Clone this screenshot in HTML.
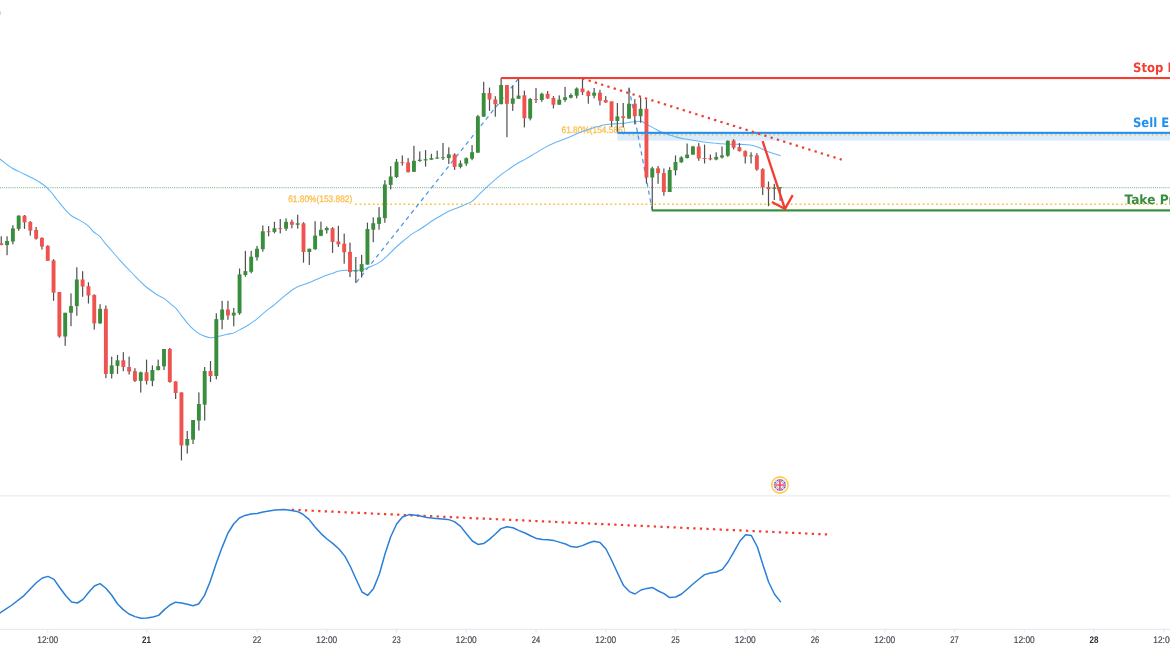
<!DOCTYPE html>
<html lang="en"><head><meta charset="utf-8"><title>Chart</title>
<style>html,body{margin:0;padding:0;background:#fff;}body{width:1170px;height:650px;overflow:hidden;position:relative;font-family:"Liberation Sans",sans-serif;}svg{position:absolute;left:0;top:0;display:block;}text{white-space:pre;text-rendering:geometricPrecision;}</style>
</head><body>
<svg width="1170" height="650" viewBox="0 0 1170 650">
<rect x="0" y="0" width="1170" height="650" fill="#ffffff"/>
<rect x="0" y="11.2" width="0.9" height="3.6" fill="#CDD0D4"/>
<rect x="0" y="494.9" width="1170" height="1.8" fill="#EEF1F3"/>
<rect x="0" y="628.8" width="1170" height="1.3" fill="#E8EAED"/>
<line x1="0" y1="187.6" x2="1170" y2="187.6" stroke="#8FBC96" stroke-width="1.05" stroke-dasharray="1 1.1"/>
<rect x="617.4" y="133.5" width="552.6" height="7.1" fill="#DCECFB"/>
<line x1="628.3" y1="134.9" x2="1170" y2="134.9" stroke="#E8B63A" stroke-width="1.3" stroke-dasharray="1.4 3.0"/>
<line x1="355.2" y1="204.2" x2="1170" y2="204.2" stroke="#FBC02D" stroke-width="1.6" stroke-dasharray="1.7 2.7"/>
<line x1="355.8" y1="283" x2="518.6" y2="78.4" stroke="#4A98E6" stroke-width="1.25" stroke-dasharray="4.2 3.8" stroke-dashoffset="-0.8"/>
<line x1="629" y1="87.6" x2="652.2" y2="210" stroke="#4A98E6" stroke-width="1.25" stroke-dasharray="4.2 3.8" stroke-dashoffset="-0.8"/>
<text x="288.2" y="202.3" font-family="'Liberation Sans',sans-serif" font-size="9.3" fill="#FDBE4C" stroke="#FDBE4C" stroke-width="0.3" textLength="64.1" lengthAdjust="spacingAndGlyphs">61.80%(153.882)</text>
<text x="561.5" y="133.0" font-family="'Liberation Sans',sans-serif" font-size="9.3" fill="#FDBE4C" stroke="#FDBE4C" stroke-width="0.3" textLength="64.0" lengthAdjust="spacingAndGlyphs">61.80%(154.586)</text>
<path d="M0.0,159.0C2.0,160.5 8.0,165.5 12.0,168.0C16.0,170.5 20.0,172.0 24.0,174.0C28.0,176.0 32.5,178.0 36.0,180.0C39.5,182.0 42.5,184.0 45.0,186.0C47.5,188.0 49.0,189.7 51.0,192.0C53.0,194.3 55.1,197.3 57.2,200.0C59.4,202.7 61.6,205.6 63.9,208.2C66.2,210.8 68.5,213.5 71.1,215.5C73.7,217.5 76.6,218.4 79.4,220.1C82.2,221.8 85.7,223.8 88.1,225.8C90.5,227.8 91.9,230.3 93.8,232.0C95.7,233.7 97.6,234.2 99.5,236.1C101.4,238.0 103.0,240.7 105.2,243.3C107.4,245.9 109.9,248.7 112.4,251.5C114.9,254.3 116.7,256.7 120.0,260.3C123.3,263.9 128.0,268.9 132.0,273.0C136.0,277.1 140.0,281.5 144.0,285.0C148.0,288.5 152.5,291.6 156.0,294.0C159.5,296.4 162.5,297.4 165.0,299.1C167.5,300.8 169.2,302.8 171.1,304.4C173.0,306.0 174.5,306.8 176.2,308.6C177.9,310.4 179.3,312.8 181.3,315.4C183.3,317.9 185.8,321.4 188.0,323.9C190.2,326.4 192.5,328.8 194.8,330.6C197.1,332.4 199.0,333.7 201.6,334.9C204.2,336.1 207.7,337.4 210.4,337.7C213.1,338.0 215.2,337.2 217.9,336.6C220.6,336.1 224.0,335.0 226.5,334.4C229.0,333.8 230.8,333.9 233.0,333.2C235.2,332.4 237.0,331.2 239.5,329.9C242.0,328.6 245.1,327.0 248.0,325.2C250.9,323.4 253.8,321.4 256.7,319.1C259.6,316.8 262.4,313.9 265.3,311.6C268.2,309.3 271.0,307.5 273.9,305.2C276.8,302.9 279.6,300.0 282.5,297.6C285.4,295.2 288.7,292.5 291.2,290.7C293.7,288.9 294.7,288.1 297.6,286.8C300.5,285.5 305.2,284.2 308.4,283.0C311.6,281.8 314.1,280.5 317.0,279.3C319.9,278.1 323.1,276.6 325.6,275.6C328.1,274.6 329.7,274.2 332.0,273.4C334.3,272.6 336.9,271.5 339.2,271.0C341.5,270.5 343.2,270.3 345.7,270.2C348.2,270.1 351.4,270.7 354.3,270.6C357.2,270.5 360.0,270.2 362.9,269.5C365.8,268.8 368.8,267.4 371.5,266.3C374.2,265.2 376.6,264.2 379.1,262.6C381.6,261.0 383.9,259.0 386.6,256.6C389.3,254.2 392.3,250.7 395.2,248.0C398.1,245.3 400.9,242.9 403.8,240.5C406.7,238.1 409.8,235.5 412.5,233.6C415.2,231.7 416.7,231.3 420.0,229.2C423.3,227.1 429.0,223.0 432.3,220.8C435.6,218.6 437.3,217.8 440.0,216.2C442.7,214.6 444.9,213.1 448.3,211.5C451.7,209.9 456.6,208.3 460.6,206.6C464.6,204.9 469.2,203.1 472.3,201.1C475.4,199.1 476.7,196.6 479.1,194.3C481.5,192.0 484.1,189.6 486.5,187.3C488.9,185.1 491.4,182.9 493.8,180.8C496.2,178.7 498.5,176.7 501.2,174.6C503.9,172.5 506.9,170.5 509.8,168.5C512.7,166.5 515.8,164.4 518.5,162.8C521.2,161.2 523.5,160.2 525.8,158.9C528.0,157.7 529.0,157.1 532.0,155.3C535.0,153.5 539.9,150.3 543.9,148.1C547.9,145.9 551.9,144.0 555.9,142.3C559.9,140.6 563.9,139.4 567.9,137.8C571.9,136.2 576.6,133.9 579.8,132.6C583.0,131.3 584.6,130.8 587.0,130.0C589.4,129.2 591.4,128.3 594.2,127.5C597.0,126.7 601.0,125.5 603.8,124.9C606.6,124.3 607.9,124.3 610.9,124.1C613.9,123.9 618.3,123.8 621.7,123.5C625.1,123.2 628.1,122.5 631.3,122.1C634.5,121.7 638.7,121.2 640.9,121.3C643.1,121.4 643.1,122.2 644.4,122.9C645.7,123.6 646.9,124.4 648.8,125.4C650.7,126.5 653.6,128.0 655.8,129.2C658.0,130.3 659.8,131.4 661.9,132.3C664.0,133.2 665.8,133.8 668.1,134.6C670.4,135.4 673.2,136.2 675.8,136.9C678.4,137.6 680.9,138.3 683.5,138.8C686.1,139.3 688.7,139.6 691.2,140.0C693.8,140.4 696.2,140.8 698.8,141.2C701.3,141.6 703.9,142.0 706.5,142.3C709.1,142.6 711.6,142.8 714.2,143.1C716.8,143.3 719.3,143.6 721.9,143.8C724.5,144.0 727.0,144.1 729.6,144.2C732.2,144.3 734.7,144.2 737.3,144.3C739.9,144.4 742.4,144.4 745.0,144.6C747.6,144.8 750.4,144.9 752.7,145.4C755.0,145.9 756.8,146.6 758.8,147.4C760.8,148.2 762.9,149.6 765.0,150.5C767.1,151.4 768.6,151.9 771.2,152.8C773.8,153.7 778.9,155.2 780.4,155.7" fill="none" stroke="#64B5F6" stroke-width="1.05" stroke-linejoin="round" stroke-linecap="round"/>
<g>
<rect x="0.65" y="236.3" width="1.2" height="8.8" fill="#505050"/>
<rect x="-0.70" y="243.3" width="3.9" height="1.8" fill="#EF5350"/>
<rect x="6.46" y="236.3" width="1.2" height="18.9" fill="#505050"/>
<rect x="5.11" y="241.0" width="3.9" height="4.1" fill="#388E3C"/>
<rect x="12.28" y="225.3" width="1.2" height="19.0" fill="#505050"/>
<rect x="10.93" y="228.4" width="3.9" height="13.1" fill="#388E3C"/>
<rect x="18.09" y="215.2" width="1.2" height="15.7" fill="#505050"/>
<rect x="16.74" y="215.7" width="3.9" height="13.2" fill="#388E3C"/>
<rect x="23.90" y="215.0" width="1.2" height="13.9" fill="#505050"/>
<rect x="22.55" y="215.7" width="3.9" height="6.7" fill="#EF5350"/>
<rect x="29.71" y="221.1" width="1.2" height="14.5" fill="#505050"/>
<rect x="28.36" y="221.9" width="3.9" height="8.7" fill="#EF5350"/>
<rect x="35.52" y="227.0" width="1.2" height="12.7" fill="#505050"/>
<rect x="34.17" y="229.9" width="3.9" height="8.8" fill="#EF5350"/>
<rect x="41.34" y="237.3" width="1.2" height="12.2" fill="#505050"/>
<rect x="39.99" y="237.9" width="3.9" height="8.7" fill="#EF5350"/>
<rect x="47.15" y="245.2" width="1.2" height="15.6" fill="#505050"/>
<rect x="45.80" y="245.9" width="3.9" height="14.9" fill="#EF5350"/>
<rect x="52.96" y="259.2" width="1.2" height="41.6" fill="#505050"/>
<rect x="51.61" y="260.4" width="3.9" height="32.3" fill="#EF5350"/>
<rect x="58.77" y="292.0" width="1.2" height="45.7" fill="#505050"/>
<rect x="57.42" y="292.0" width="3.9" height="44.5" fill="#EF5350"/>
<rect x="64.59" y="312.8" width="1.2" height="33.0" fill="#505050"/>
<rect x="63.24" y="312.8" width="3.9" height="23.7" fill="#388E3C"/>
<rect x="70.40" y="293.4" width="1.2" height="32.8" fill="#505050"/>
<rect x="69.05" y="306.1" width="3.9" height="6.7" fill="#388E3C"/>
<rect x="76.21" y="267.3" width="1.2" height="48.5" fill="#505050"/>
<rect x="74.86" y="279.5" width="3.9" height="26.6" fill="#388E3C"/>
<rect x="82.03" y="271.2" width="1.2" height="25.6" fill="#505050"/>
<rect x="80.67" y="279.5" width="3.9" height="7.0" fill="#EF5350"/>
<rect x="87.84" y="282.3" width="1.2" height="21.2" fill="#505050"/>
<rect x="86.49" y="286.2" width="3.9" height="9.3" fill="#EF5350"/>
<rect x="93.65" y="294.3" width="1.2" height="35.3" fill="#505050"/>
<rect x="92.30" y="295.0" width="3.9" height="28.4" fill="#EF5350"/>
<rect x="99.46" y="304.2" width="1.2" height="19.6" fill="#505050"/>
<rect x="98.11" y="308.8" width="3.9" height="14.6" fill="#388E3C"/>
<rect x="105.28" y="305.4" width="1.2" height="72.7" fill="#505050"/>
<rect x="103.92" y="308.8" width="3.9" height="65.1" fill="#EF5350"/>
<rect x="111.09" y="356.6" width="1.2" height="21.9" fill="#505050"/>
<rect x="109.74" y="365.4" width="3.9" height="8.5" fill="#388E3C"/>
<rect x="116.90" y="355.0" width="1.2" height="18.9" fill="#505050"/>
<rect x="115.55" y="360.3" width="3.9" height="5.6" fill="#388E3C"/>
<rect x="122.71" y="352.2" width="1.2" height="19.0" fill="#505050"/>
<rect x="121.36" y="360.3" width="3.9" height="6.7" fill="#EF5350"/>
<rect x="128.53" y="356.6" width="1.2" height="18.0" fill="#505050"/>
<rect x="127.17" y="367.0" width="3.9" height="4.6" fill="#EF5350"/>
<rect x="134.34" y="368.2" width="1.2" height="13.8" fill="#505050"/>
<rect x="132.99" y="371.2" width="3.9" height="9.7" fill="#EF5350"/>
<rect x="140.15" y="371.6" width="1.2" height="21.0" fill="#505050"/>
<rect x="138.80" y="372.3" width="3.9" height="8.6" fill="#388E3C"/>
<rect x="145.96" y="359.6" width="1.2" height="24.9" fill="#505050"/>
<rect x="144.61" y="372.3" width="3.9" height="8.6" fill="#EF5350"/>
<rect x="151.78" y="365.4" width="1.2" height="20.8" fill="#505050"/>
<rect x="150.43" y="370.0" width="3.9" height="10.9" fill="#388E3C"/>
<rect x="157.59" y="359.6" width="1.2" height="10.6" fill="#505050"/>
<rect x="156.24" y="366.1" width="3.9" height="4.1" fill="#388E3C"/>
<rect x="163.40" y="349.0" width="1.2" height="21.0" fill="#505050"/>
<rect x="162.05" y="349.0" width="3.9" height="17.3" fill="#388E3C"/>
<rect x="169.21" y="348.0" width="1.2" height="34.7" fill="#505050"/>
<rect x="167.86" y="349.0" width="3.9" height="33.0" fill="#EF5350"/>
<rect x="175.03" y="381.4" width="1.2" height="17.6" fill="#505050"/>
<rect x="173.68" y="381.4" width="3.9" height="11.6" fill="#EF5350"/>
<rect x="180.84" y="392.4" width="1.2" height="68.0" fill="#505050"/>
<rect x="179.49" y="392.4" width="3.9" height="53.0" fill="#EF5350"/>
<rect x="186.65" y="431.0" width="1.2" height="22.6" fill="#505050"/>
<rect x="185.30" y="439.0" width="3.9" height="6.4" fill="#388E3C"/>
<rect x="192.46" y="420.0" width="1.2" height="24.0" fill="#505050"/>
<rect x="191.11" y="420.0" width="3.9" height="19.6" fill="#388E3C"/>
<rect x="198.28" y="392.4" width="1.2" height="38.2" fill="#505050"/>
<rect x="196.93" y="404.0" width="3.9" height="16.6" fill="#388E3C"/>
<rect x="204.09" y="367.0" width="1.2" height="53.6" fill="#505050"/>
<rect x="202.74" y="371.0" width="3.9" height="33.6" fill="#388E3C"/>
<rect x="209.90" y="361.0" width="1.2" height="21.0" fill="#505050"/>
<rect x="208.55" y="371.0" width="3.9" height="5.0" fill="#EF5350"/>
<rect x="215.71" y="313.3" width="1.2" height="66.1" fill="#505050"/>
<rect x="214.36" y="319.1" width="3.9" height="56.9" fill="#388E3C"/>
<rect x="221.53" y="300.8" width="1.2" height="28.5" fill="#505050"/>
<rect x="220.18" y="309.5" width="3.9" height="10.3" fill="#388E3C"/>
<rect x="227.34" y="300.8" width="1.2" height="19.0" fill="#505050"/>
<rect x="225.99" y="309.5" width="3.9" height="6.0" fill="#EF5350"/>
<rect x="233.15" y="308.0" width="1.2" height="18.3" fill="#505050"/>
<rect x="231.80" y="312.7" width="3.9" height="2.8" fill="#388E3C"/>
<rect x="238.96" y="268.5" width="1.2" height="46.3" fill="#505050"/>
<rect x="237.61" y="274.4" width="3.9" height="38.9" fill="#388E3C"/>
<rect x="244.78" y="250.9" width="1.2" height="25.8" fill="#505050"/>
<rect x="243.43" y="271.1" width="3.9" height="3.9" fill="#388E3C"/>
<rect x="250.59" y="250.9" width="1.2" height="22.4" fill="#505050"/>
<rect x="249.24" y="256.7" width="3.9" height="15.1" fill="#388E3C"/>
<rect x="256.40" y="245.9" width="1.2" height="14.7" fill="#505050"/>
<rect x="255.05" y="248.7" width="3.9" height="8.6" fill="#388E3C"/>
<rect x="262.21" y="225.5" width="1.2" height="26.2" fill="#505050"/>
<rect x="260.86" y="231.3" width="3.9" height="17.9" fill="#388E3C"/>
<rect x="268.02" y="226.1" width="1.2" height="10.1" fill="#505050"/>
<rect x="266.68" y="231.3" width="3.9" height="0.9" fill="#EF5350"/>
<rect x="273.84" y="221.8" width="1.2" height="11.6" fill="#505050"/>
<rect x="272.49" y="228.3" width="3.9" height="3.6" fill="#388E3C"/>
<rect x="279.65" y="219.0" width="1.2" height="14.4" fill="#505050"/>
<rect x="278.30" y="228.0" width="3.9" height="0.9" fill="#EF5350"/>
<rect x="285.46" y="218.4" width="1.2" height="12.4" fill="#505050"/>
<rect x="284.11" y="221.8" width="3.9" height="6.9" fill="#388E3C"/>
<rect x="291.27" y="219.6" width="1.2" height="8.7" fill="#505050"/>
<rect x="289.93" y="221.8" width="3.9" height="3.0" fill="#EF5350"/>
<rect x="297.09" y="214.7" width="1.2" height="14.0" fill="#505050"/>
<rect x="295.74" y="223.3" width="3.9" height="1.5" fill="#388E3C"/>
<rect x="302.90" y="222.2" width="1.2" height="40.5" fill="#505050"/>
<rect x="301.55" y="223.3" width="3.9" height="28.7" fill="#EF5350"/>
<rect x="308.71" y="248.7" width="1.2" height="16.2" fill="#505050"/>
<rect x="307.36" y="248.7" width="3.9" height="3.3" fill="#388E3C"/>
<rect x="314.52" y="221.2" width="1.2" height="28.6" fill="#505050"/>
<rect x="313.18" y="235.6" width="3.9" height="13.6" fill="#388E3C"/>
<rect x="320.34" y="221.6" width="1.2" height="14.6" fill="#505050"/>
<rect x="318.99" y="229.8" width="3.9" height="6.0" fill="#388E3C"/>
<rect x="326.15" y="226.5" width="1.2" height="7.1" fill="#505050"/>
<rect x="324.80" y="228.0" width="3.9" height="2.2" fill="#388E3C"/>
<rect x="331.96" y="227.2" width="1.2" height="25.7" fill="#505050"/>
<rect x="330.61" y="228.2" width="3.9" height="13.8" fill="#EF5350"/>
<rect x="337.77" y="225.8" width="1.2" height="21.1" fill="#505050"/>
<rect x="336.43" y="241.5" width="3.9" height="2.8" fill="#EF5350"/>
<rect x="343.59" y="233.6" width="1.2" height="30.1" fill="#505050"/>
<rect x="342.24" y="243.7" width="3.9" height="8.6" fill="#EF5350"/>
<rect x="349.40" y="242.6" width="1.2" height="34.5" fill="#505050"/>
<rect x="348.05" y="251.9" width="3.9" height="20.2" fill="#EF5350"/>
<rect x="355.21" y="257.0" width="1.2" height="25.9" fill="#505050"/>
<rect x="353.86" y="270.6" width="3.9" height="0.9" fill="#388E3C"/>
<rect x="361.02" y="254.9" width="1.2" height="22.6" fill="#505050"/>
<rect x="359.68" y="264.1" width="3.9" height="7.6" fill="#388E3C"/>
<rect x="366.84" y="222.6" width="1.2" height="42.0" fill="#505050"/>
<rect x="365.49" y="229.0" width="3.9" height="35.6" fill="#388E3C"/>
<rect x="372.65" y="217.4" width="1.2" height="24.8" fill="#505050"/>
<rect x="371.30" y="223.2" width="3.9" height="6.5" fill="#388E3C"/>
<rect x="378.46" y="207.1" width="1.2" height="22.6" fill="#505050"/>
<rect x="377.11" y="217.4" width="3.9" height="6.5" fill="#388E3C"/>
<rect x="384.27" y="180.2" width="1.2" height="42.6" fill="#505050"/>
<rect x="382.93" y="184.5" width="3.9" height="33.6" fill="#388E3C"/>
<rect x="390.09" y="166.2" width="1.2" height="23.2" fill="#505050"/>
<rect x="388.74" y="176.5" width="3.9" height="8.4" fill="#388E3C"/>
<rect x="395.90" y="159.0" width="1.2" height="19.0" fill="#505050"/>
<rect x="394.55" y="161.8" width="3.9" height="15.2" fill="#388E3C"/>
<rect x="401.71" y="155.4" width="1.2" height="10.2" fill="#505050"/>
<rect x="400.36" y="162.2" width="3.9" height="0.9" fill="#EF5350"/>
<rect x="407.52" y="158.1" width="1.2" height="14.5" fill="#505050"/>
<rect x="406.18" y="162.4" width="3.9" height="9.7" fill="#EF5350"/>
<rect x="413.34" y="145.8" width="1.2" height="26.2" fill="#505050"/>
<rect x="411.99" y="160.8" width="3.9" height="11.0" fill="#388E3C"/>
<rect x="419.15" y="151.4" width="1.2" height="10.4" fill="#505050"/>
<rect x="417.80" y="159.7" width="3.9" height="1.3" fill="#388E3C"/>
<rect x="424.96" y="150.1" width="1.2" height="16.5" fill="#505050"/>
<rect x="423.61" y="159.2" width="3.9" height="1.2" fill="#388E3C"/>
<rect x="430.77" y="153.8" width="1.2" height="6.0" fill="#505050"/>
<rect x="429.43" y="158.1" width="3.9" height="1.6" fill="#388E3C"/>
<rect x="436.59" y="150.6" width="1.2" height="8.2" fill="#505050"/>
<rect x="435.24" y="157.5" width="3.9" height="1.1" fill="#388E3C"/>
<rect x="442.40" y="143.0" width="1.2" height="17.0" fill="#505050"/>
<rect x="441.05" y="157.3" width="3.9" height="0.9" fill="#388E3C"/>
<rect x="448.21" y="147.3" width="1.2" height="16.7" fill="#505050"/>
<rect x="446.86" y="154.3" width="3.9" height="3.8" fill="#388E3C"/>
<rect x="454.02" y="153.3" width="1.2" height="16.6" fill="#505050"/>
<rect x="452.68" y="154.4" width="3.9" height="12.5" fill="#EF5350"/>
<rect x="459.84" y="160.4" width="1.2" height="8.0" fill="#505050"/>
<rect x="458.49" y="163.4" width="3.9" height="3.5" fill="#388E3C"/>
<rect x="465.65" y="157.4" width="1.2" height="8.4" fill="#505050"/>
<rect x="464.30" y="158.2" width="3.9" height="5.4" fill="#388E3C"/>
<rect x="471.46" y="145.1" width="1.2" height="15.1" fill="#505050"/>
<rect x="470.11" y="152.2" width="3.9" height="6.5" fill="#388E3C"/>
<rect x="477.27" y="115.0" width="1.2" height="37.7" fill="#505050"/>
<rect x="475.93" y="116.3" width="3.9" height="36.4" fill="#388E3C"/>
<rect x="483.09" y="81.8" width="1.2" height="34.9" fill="#505050"/>
<rect x="481.74" y="93.0" width="3.9" height="23.7" fill="#388E3C"/>
<rect x="488.90" y="87.6" width="1.2" height="23.3" fill="#505050"/>
<rect x="487.55" y="93.0" width="3.9" height="6.5" fill="#EF5350"/>
<rect x="494.71" y="96.2" width="1.2" height="20.5" fill="#505050"/>
<rect x="493.36" y="99.5" width="3.9" height="4.7" fill="#EF5350"/>
<rect x="500.52" y="77.9" width="1.2" height="26.3" fill="#505050"/>
<rect x="499.18" y="85.0" width="3.9" height="19.2" fill="#388E3C"/>
<rect x="506.34" y="85.0" width="1.2" height="52.2" fill="#505050"/>
<rect x="504.99" y="85.0" width="3.9" height="18.8" fill="#EF5350"/>
<rect x="512.15" y="85.9" width="1.2" height="25.0" fill="#505050"/>
<rect x="510.80" y="98.4" width="3.9" height="5.4" fill="#388E3C"/>
<rect x="517.96" y="78.4" width="1.2" height="20.4" fill="#505050"/>
<rect x="516.61" y="95.6" width="3.9" height="3.2" fill="#388E3C"/>
<rect x="523.77" y="90.6" width="1.2" height="36.8" fill="#505050"/>
<rect x="522.42" y="95.3" width="3.9" height="22.9" fill="#EF5350"/>
<rect x="529.59" y="98.0" width="1.2" height="22.4" fill="#505050"/>
<rect x="528.24" y="98.9" width="3.9" height="19.6" fill="#388E3C"/>
<rect x="535.40" y="88.0" width="1.2" height="15.0" fill="#505050"/>
<rect x="534.05" y="99.1" width="3.9" height="0.9" fill="#EF5350"/>
<rect x="541.21" y="92.7" width="1.2" height="9.2" fill="#505050"/>
<rect x="539.86" y="93.8" width="3.9" height="6.2" fill="#388E3C"/>
<rect x="547.02" y="91.0" width="1.2" height="8.0" fill="#505050"/>
<rect x="545.67" y="93.8" width="3.9" height="4.6" fill="#EF5350"/>
<rect x="552.84" y="96.1" width="1.2" height="12.3" fill="#505050"/>
<rect x="551.49" y="98.0" width="3.9" height="6.7" fill="#EF5350"/>
<rect x="558.65" y="95.4" width="1.2" height="9.3" fill="#505050"/>
<rect x="557.30" y="99.6" width="3.9" height="5.1" fill="#388E3C"/>
<rect x="564.46" y="86.9" width="1.2" height="15.0" fill="#505050"/>
<rect x="563.11" y="97.3" width="3.9" height="2.7" fill="#388E3C"/>
<rect x="570.27" y="93.4" width="1.2" height="5.0" fill="#505050"/>
<rect x="568.92" y="95.0" width="3.9" height="2.7" fill="#388E3C"/>
<rect x="576.09" y="87.4" width="1.2" height="11.0" fill="#505050"/>
<rect x="574.74" y="88.5" width="3.9" height="7.2" fill="#388E3C"/>
<rect x="581.90" y="77.7" width="1.2" height="17.3" fill="#505050"/>
<rect x="580.55" y="88.5" width="3.9" height="3.7" fill="#EF5350"/>
<rect x="587.71" y="90.4" width="1.2" height="13.3" fill="#505050"/>
<rect x="586.36" y="91.5" width="3.9" height="4.6" fill="#EF5350"/>
<rect x="593.52" y="88.0" width="1.2" height="10.4" fill="#505050"/>
<rect x="592.17" y="92.7" width="3.9" height="3.0" fill="#388E3C"/>
<rect x="599.34" y="89.9" width="1.2" height="15.5" fill="#505050"/>
<rect x="597.99" y="92.7" width="3.9" height="8.0" fill="#EF5350"/>
<rect x="605.15" y="96.1" width="1.2" height="6.9" fill="#505050"/>
<rect x="603.80" y="100.0" width="3.9" height="2.4" fill="#EF5350"/>
<rect x="610.96" y="101.4" width="1.2" height="25.4" fill="#505050"/>
<rect x="609.61" y="101.4" width="3.9" height="19.6" fill="#EF5350"/>
<rect x="616.77" y="103.0" width="1.2" height="28.9" fill="#505050"/>
<rect x="615.42" y="116.4" width="3.9" height="4.6" fill="#388E3C"/>
<rect x="622.59" y="103.0" width="1.2" height="24.4" fill="#505050"/>
<rect x="621.24" y="116.4" width="3.9" height="1.6" fill="#EF5350"/>
<rect x="628.40" y="87.6" width="1.2" height="31.4" fill="#505050"/>
<rect x="627.05" y="103.7" width="3.9" height="14.8" fill="#388E3C"/>
<rect x="634.21" y="99.1" width="1.2" height="25.4" fill="#505050"/>
<rect x="632.86" y="103.7" width="3.9" height="12.5" fill="#EF5350"/>
<rect x="640.02" y="97.3" width="1.2" height="25.4" fill="#505050"/>
<rect x="638.67" y="108.8" width="3.9" height="7.4" fill="#388E3C"/>
<rect x="645.84" y="99.6" width="1.2" height="83.9" fill="#505050"/>
<rect x="644.49" y="108.8" width="3.9" height="68.7" fill="#EF5350"/>
<rect x="651.65" y="166.7" width="1.2" height="43.3" fill="#505050"/>
<rect x="650.30" y="168.3" width="3.9" height="9.2" fill="#388E3C"/>
<rect x="657.46" y="166.0" width="1.2" height="17.8" fill="#505050"/>
<rect x="656.11" y="168.3" width="3.9" height="4.9" fill="#EF5350"/>
<rect x="663.27" y="168.5" width="1.2" height="27.2" fill="#505050"/>
<rect x="661.92" y="173.1" width="3.9" height="18.9" fill="#EF5350"/>
<rect x="669.09" y="167.2" width="1.2" height="24.8" fill="#505050"/>
<rect x="667.74" y="170.0" width="3.9" height="22.0" fill="#388E3C"/>
<rect x="674.90" y="155.4" width="1.2" height="20.0" fill="#505050"/>
<rect x="673.55" y="162.0" width="3.9" height="8.3" fill="#388E3C"/>
<rect x="680.71" y="156.2" width="1.2" height="6.6" fill="#505050"/>
<rect x="679.36" y="157.4" width="3.9" height="4.9" fill="#388E3C"/>
<rect x="686.52" y="143.5" width="1.2" height="15.0" fill="#505050"/>
<rect x="685.17" y="154.6" width="3.9" height="3.4" fill="#388E3C"/>
<rect x="692.34" y="145.8" width="1.2" height="8.8" fill="#505050"/>
<rect x="690.99" y="146.5" width="3.9" height="8.1" fill="#388E3C"/>
<rect x="698.15" y="143.1" width="1.2" height="17.7" fill="#505050"/>
<rect x="696.80" y="146.5" width="3.9" height="12.0" fill="#EF5350"/>
<rect x="703.96" y="144.6" width="1.2" height="18.9" fill="#505050"/>
<rect x="702.61" y="158.0" width="3.9" height="0.9" fill="#EF5350"/>
<rect x="709.77" y="154.6" width="1.2" height="5.7" fill="#505050"/>
<rect x="708.42" y="158.2" width="3.9" height="1.2" fill="#EF5350"/>
<rect x="715.59" y="152.3" width="1.2" height="8.0" fill="#505050"/>
<rect x="714.24" y="156.9" width="3.9" height="2.6" fill="#388E3C"/>
<rect x="721.40" y="146.5" width="1.2" height="12.0" fill="#505050"/>
<rect x="720.05" y="155.4" width="3.9" height="2.0" fill="#388E3C"/>
<rect x="727.21" y="140.3" width="1.2" height="16.6" fill="#505050"/>
<rect x="725.86" y="140.8" width="3.9" height="14.9" fill="#388E3C"/>
<rect x="733.02" y="139.2" width="1.2" height="10.3" fill="#505050"/>
<rect x="731.67" y="140.5" width="3.9" height="7.2" fill="#EF5350"/>
<rect x="738.84" y="143.1" width="1.2" height="8.4" fill="#505050"/>
<rect x="737.49" y="147.2" width="3.9" height="4.0" fill="#EF5350"/>
<rect x="744.65" y="150.3" width="1.2" height="13.2" fill="#505050"/>
<rect x="743.30" y="151.2" width="3.9" height="5.3" fill="#EF5350"/>
<rect x="750.46" y="152.3" width="1.2" height="11.2" fill="#505050"/>
<rect x="749.11" y="155.4" width="3.9" height="0.9" fill="#388E3C"/>
<rect x="756.27" y="153.1" width="1.2" height="17.7" fill="#505050"/>
<rect x="754.92" y="155.4" width="3.9" height="14.1" fill="#EF5350"/>
<rect x="762.09" y="168.2" width="1.2" height="26.9" fill="#505050"/>
<rect x="760.74" y="169.2" width="3.9" height="18.0" fill="#EF5350"/>
<rect x="767.90" y="181.5" width="1.2" height="24.7" fill="#505050"/>
<rect x="766.55" y="186.9" width="3.9" height="2.3" fill="#EF5350"/>
<rect x="773.71" y="183.8" width="1.2" height="16.2" fill="#505050"/>
<rect x="772.36" y="187.7" width="3.9" height="1.2" fill="#388E3C"/>
<rect x="779.52" y="187.2" width="1.2" height="13.6" fill="#505050"/>
<rect x="778.17" y="187.2" width="3.9" height="1.0" fill="#388E3C"/>
</g>
<rect x="501.1" y="77" width="668.9" height="2.1" fill="#F33D31"/>
<rect x="617.4" y="131.8" width="552.6" height="2.1" fill="#2090EE"/>
<rect x="651.7" y="209.3" width="518.3" height="2.2" fill="#388E3C"/>
<line x1="583.3" y1="78.8" x2="840.7" y2="159.35" stroke="#F33D31" stroke-width="2.2" stroke-dasharray="0.1 6.478" stroke-linecap="square"/>
<g fill="none" stroke="#F33D31" stroke-width="2.3" stroke-linecap="butt" stroke-linejoin="miter">
<line x1="762.6" y1="141.1" x2="784.8" y2="208.4"/>
<polyline points="771.9,202 785,208.9 792.7,195.1"/>
</g>
<line x1="292.9" y1="509.85" x2="826" y2="534.4" stroke="#F33D31" stroke-width="2.2" stroke-dasharray="0.1 6.488" stroke-linecap="square"/>
<polyline points="0.0,613.0 12.0,605.0 24.0,595.6 36.0,583.0 42.4,578.0 48.0,576.4 54.0,579.4 60.0,588.0 66.0,596.0 71.6,602.0 77.4,603.0 83.0,599.4 89.0,592.0 94.4,586.0 100.0,583.6 105.6,588.0 111.6,595.0 117.6,604.0 123.0,609.4 129.0,614.0 135.0,616.6 141.0,618.2 147.0,618.0 153.0,617.0 158.6,615.4 164.4,609.6 170.0,605.0 175.6,602.2 181.6,603.0 187.4,604.2 193.0,605.8 198.6,604.0 204.4,595.6 210.0,582.0 216.0,564.0 222.0,547.6 228.0,533.0 233.6,524.0 239.4,518.0 245.0,515.4 251.0,514.0 257.0,513.4 263.0,512.0 269.0,511.0 275.0,510.0 284.0,509.6 290.0,510.2 297.0,511.4 302.6,514.0 309.0,519.4 315.0,527.0 321.0,533.6 327.0,539.0 333.0,543.6 339.0,549.0 345.0,556.4 350.6,567.0 356.0,579.0 362.0,592.0 367.6,595.4 373.6,588.4 379.4,574.0 385.0,554.0 390.6,537.0 396.6,524.0 402.4,517.0 409.0,514.6 418.0,515.4 427.0,517.6 436.0,518.6 448.0,519.4 454.4,521.6 460.6,526.4 466.6,534.0 472.4,541.0 478.0,544.4 483.6,543.6 489.4,539.4 495.4,534.0 501.0,528.6 507.0,526.8 513.0,527.8 519.0,530.6 525.0,533.0 531.0,536.0 536.6,538.6 542.4,539.6 548.0,539.8 554.0,540.6 560.0,542.4 565.6,544.0 571.0,546.6 576.4,547.2 582.4,545.6 588.4,543.0 594.0,541.2 600.0,542.4 606.0,549.0 612.0,561.0 618.0,574.0 623.6,585.6 629.4,591.6 635.0,594.0 641.0,590.0 647.0,588.4 652.6,587.6 658.4,591.0 664.0,593.6 669.6,597.6 675.6,597.0 681.6,594.0 687.4,589.0 693.0,584.0 699.0,579.0 704.6,574.6 710.6,573.0 716.4,572.0 722.4,569.4 728.0,562.0 734.0,551.6 740.0,541.0 745.6,534.8 751.4,535.6 757.4,547.0 763.0,565.0 768.6,582.0 774.4,594.0 780.4,601.6" fill="none" stroke="#2A7FD8" stroke-width="1.5" stroke-linejoin="round" stroke-linecap="round"/>
<g transform="translate(779.9,485)">
<circle r="8.15" fill="#fff" stroke="#FCCD50" stroke-width="1.6"/>
<clipPath id="fc"><circle r="6.1"/></clipPath>
<g clip-path="url(#fc)">
<rect x="-7" y="-7" width="14" height="14" fill="#4456BE"/>
<path d="M-7,-7L7,7M7,-7L-7,7" stroke="#fff" stroke-width="2.0"/>
<path d="M-7,-7L7,7M7,-7L-7,7" stroke="#EF7B8B" stroke-width="0.8"/>
<path d="M0,-7V7M-7,0H7" stroke="#fff" stroke-width="3.0"/>
<path d="M0,-7V7M-7,0H7" stroke="#EA5068" stroke-width="1.7"/>
</g></g>
<text transform="translate(1133.0,72) scale(0.905,1)" font-family="'DejaVu Sans','Liberation Sans',sans-serif" font-weight="bold" font-size="12.9" fill="#F33D31">Stop Loss</text>
<text transform="translate(1133.0,127) scale(0.9,1)" font-family="'DejaVu Sans','Liberation Sans',sans-serif" font-weight="bold" font-size="12.9" fill="#2090EE">Sell Entry</text>
<text transform="translate(1124.4,204) scale(0.945,1)" font-family="'DejaVu Sans','Liberation Sans',sans-serif" font-weight="bold" font-size="12.9" fill="#388E3C">Take Profit</text>
<rect x="47.15" y="629" width="1.2" height="3.6" fill="#E8EAED"/>
<text x="37.35" y="642.7" font-family="'Liberation Sans',sans-serif" font-size="9.6" font-weight="normal" fill="#484D57" stroke="#484D57" stroke-width="0.2" textLength="20.8" lengthAdjust="spacingAndGlyphs">12:00</text>
<rect x="145.96" y="629" width="1.2" height="3.6" fill="#E8EAED"/>
<text x="142.11" y="642.7" font-family="'Liberation Sans',sans-serif" font-size="9.6" font-weight="bold" fill="#2A2E39" stroke="#2A2E39" stroke-width="0" textLength="8.9" lengthAdjust="spacingAndGlyphs">21</text>
<rect x="256.40" y="629" width="1.2" height="3.6" fill="#E8EAED"/>
<text x="252.80" y="642.7" font-family="'Liberation Sans',sans-serif" font-size="9.6" font-weight="normal" fill="#484D57" stroke="#484D57" stroke-width="0.2" textLength="8.4" lengthAdjust="spacingAndGlyphs">22</text>
<rect x="326.15" y="629" width="1.2" height="3.6" fill="#E8EAED"/>
<text x="316.35" y="642.7" font-family="'Liberation Sans',sans-serif" font-size="9.6" font-weight="normal" fill="#484D57" stroke="#484D57" stroke-width="0.2" textLength="20.8" lengthAdjust="spacingAndGlyphs">12:00</text>
<rect x="395.90" y="629" width="1.2" height="3.6" fill="#E8EAED"/>
<text x="392.30" y="642.7" font-family="'Liberation Sans',sans-serif" font-size="9.6" font-weight="normal" fill="#484D57" stroke="#484D57" stroke-width="0.2" textLength="8.4" lengthAdjust="spacingAndGlyphs">23</text>
<rect x="465.65" y="629" width="1.2" height="3.6" fill="#E8EAED"/>
<text x="455.85" y="642.7" font-family="'Liberation Sans',sans-serif" font-size="9.6" font-weight="normal" fill="#484D57" stroke="#484D57" stroke-width="0.2" textLength="20.8" lengthAdjust="spacingAndGlyphs">12:00</text>
<rect x="535.40" y="629" width="1.2" height="3.6" fill="#E8EAED"/>
<text x="531.80" y="642.7" font-family="'Liberation Sans',sans-serif" font-size="9.6" font-weight="normal" fill="#484D57" stroke="#484D57" stroke-width="0.2" textLength="8.4" lengthAdjust="spacingAndGlyphs">24</text>
<rect x="605.15" y="629" width="1.2" height="3.6" fill="#E8EAED"/>
<text x="595.35" y="642.7" font-family="'Liberation Sans',sans-serif" font-size="9.6" font-weight="normal" fill="#484D57" stroke="#484D57" stroke-width="0.2" textLength="20.8" lengthAdjust="spacingAndGlyphs">12:00</text>
<rect x="674.90" y="629" width="1.2" height="3.6" fill="#E8EAED"/>
<text x="671.30" y="642.7" font-family="'Liberation Sans',sans-serif" font-size="9.6" font-weight="normal" fill="#484D57" stroke="#484D57" stroke-width="0.2" textLength="8.4" lengthAdjust="spacingAndGlyphs">25</text>
<rect x="744.65" y="629" width="1.2" height="3.6" fill="#E8EAED"/>
<text x="734.85" y="642.7" font-family="'Liberation Sans',sans-serif" font-size="9.6" font-weight="normal" fill="#484D57" stroke="#484D57" stroke-width="0.2" textLength="20.8" lengthAdjust="spacingAndGlyphs">12:00</text>
<rect x="814.40" y="629" width="1.2" height="3.6" fill="#E8EAED"/>
<text x="810.80" y="642.7" font-family="'Liberation Sans',sans-serif" font-size="9.6" font-weight="normal" fill="#484D57" stroke="#484D57" stroke-width="0.2" textLength="8.4" lengthAdjust="spacingAndGlyphs">26</text>
<rect x="884.15" y="629" width="1.2" height="3.6" fill="#E8EAED"/>
<text x="874.35" y="642.7" font-family="'Liberation Sans',sans-serif" font-size="9.6" font-weight="normal" fill="#484D57" stroke="#484D57" stroke-width="0.2" textLength="20.8" lengthAdjust="spacingAndGlyphs">12:00</text>
<rect x="953.90" y="629" width="1.2" height="3.6" fill="#E8EAED"/>
<text x="950.30" y="642.7" font-family="'Liberation Sans',sans-serif" font-size="9.6" font-weight="normal" fill="#484D57" stroke="#484D57" stroke-width="0.2" textLength="8.4" lengthAdjust="spacingAndGlyphs">27</text>
<rect x="1023.65" y="629" width="1.2" height="3.6" fill="#E8EAED"/>
<text x="1013.85" y="642.7" font-family="'Liberation Sans',sans-serif" font-size="9.6" font-weight="normal" fill="#484D57" stroke="#484D57" stroke-width="0.2" textLength="20.8" lengthAdjust="spacingAndGlyphs">12:00</text>
<rect x="1093.40" y="629" width="1.2" height="3.6" fill="#E8EAED"/>
<text x="1089.55" y="642.7" font-family="'Liberation Sans',sans-serif" font-size="9.6" font-weight="bold" fill="#2A2E39" stroke="#2A2E39" stroke-width="0" textLength="8.9" lengthAdjust="spacingAndGlyphs">28</text>
<rect x="1163.15" y="629" width="1.2" height="3.6" fill="#E8EAED"/>
<text x="1153.35" y="642.7" font-family="'Liberation Sans',sans-serif" font-size="9.6" font-weight="normal" fill="#484D57" stroke="#484D57" stroke-width="0.2" textLength="20.8" lengthAdjust="spacingAndGlyphs">12:00</text>
</svg>
</body></html>
